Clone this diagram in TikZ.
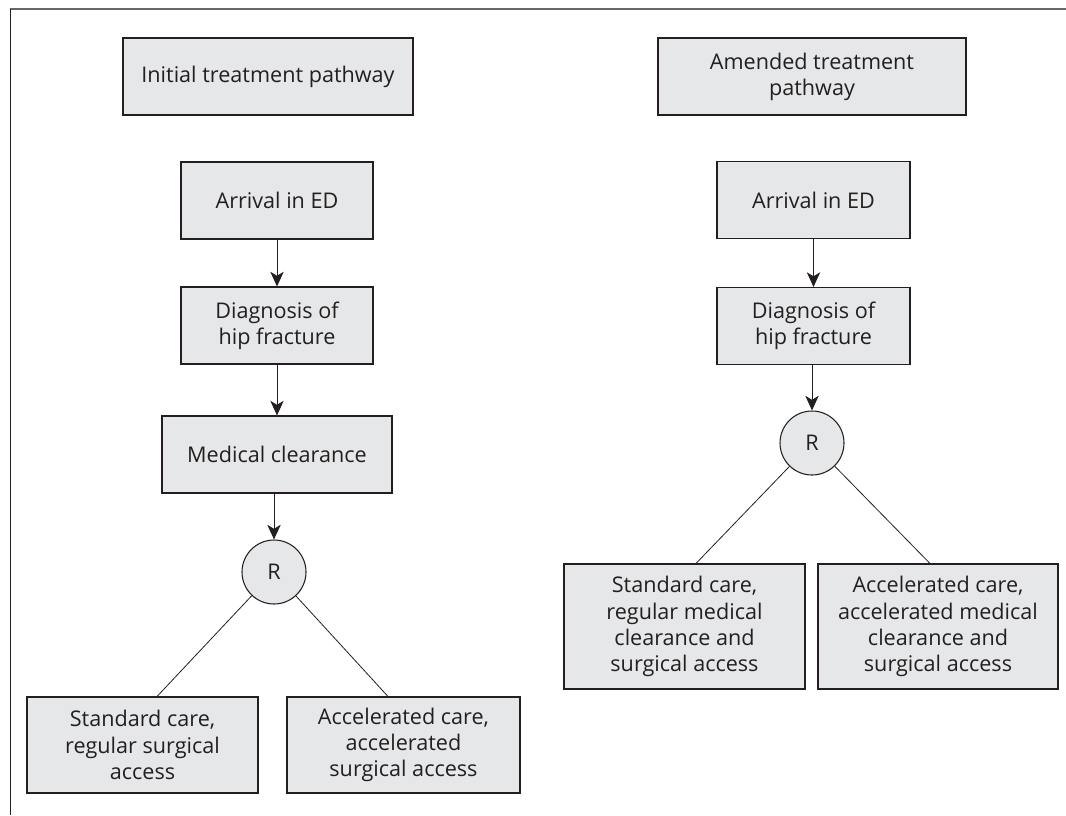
\documentclass[tikz,border=0pt]{standalone}
\usepackage{fontspec}
\setmainfont{Open Sans}
\usetikzlibrary{arrows.meta,calc}
\definecolor{boxfill}{HTML}{E6E7E8}
\definecolor{ink}{HTML}{231F20}
\begin{document}
\begin{tikzpicture}[x=0.75pt,y=-0.75pt,
  box/.style={draw=ink,line width=0.8pt,fill=boxfill,text=ink,align=center,
    inner sep=0pt,font=\fontsize{16.2}{19.6}\selectfont},
  rnode/.style={draw=ink,line width=0.8pt,fill=boxfill,text=ink,circle,
    minimum size=48pt,inner sep=0pt,font=\fontsize{16.2}{19.6}\selectfont},
  flow/.style={draw=ink,line width=0.75pt,-{Stealth[length=11pt,width=10pt,inset=3pt]}},
  branch/.style={draw=ink,line width=0.6pt}]
\useasboundingbox (0,0) rectangle (1066,815);
% frame
\draw[draw=black!60,line width=1.5pt] (10,9) -- (1066,9);
\draw[draw=ink,line width=0.7pt] (10,9) -- (10,815);
% left pathway
\node[box,minimum width=217.5pt,minimum height=57.75pt] (t1) at (268,76.5) {Initial treatment pathway};
\node[box,minimum width=144pt,minimum height=57.75pt] (a1) at (277,200.5) {Arrival in ED};
\node[box,minimum width=144pt,minimum height=57.75pt] (d1) at (277,325.5) {Diagnosis of\\hip fracture};
\node[box,minimum width=172.5pt,minimum height=57.75pt] (m1) at (277,454.5) {Medical clearance};
\node[rnode] (r1) at (274,572) {R};
\node[box,minimum width=173.25pt,minimum height=72pt] (s1) at (142.5,745) {Standard care,\\regular surgical\\access};
\node[box,minimum width=174.75pt,minimum height=72pt] (c1) at (403.5,745) {Accelerated care,\\accelerated\\surgical access};
\draw[flow] (a1) -- (d1);
\draw[flow] (d1) -- (d1|-m1.north);
\draw[flow] (m1.south-|r1) -- (r1);
\draw[branch] (r1) -- ([xshift=10.9pt]s1.north);
\draw[branch] (r1) -- ([xshift=-11.6pt]c1.north);
% right pathway
\node[box,minimum width=231pt,minimum height=57.75pt] (t2) at (812,76.5) {Amended treatment\\pathway};
\node[box,minimum width=144.75pt,minimum height=57.75pt] (a2) at (813.5,200) {Arrival in ED};
\node[box,minimum width=144.75pt,minimum height=57.75pt] (d2) at (813.5,326) {Diagnosis of\\hip fracture};
\node[rnode] (r2) at (812,443) {R};
\node[box,minimum width=180.75pt,minimum height=93.75pt] (s2) at (684.5,626.5) {Standard care,\\regular medical\\clearance and\\surgical access};
\node[box,minimum width=180pt,minimum height=93.75pt] (c2) at (938,626.5) {Accelerated care,\\accelerated medical\\clearance and\\surgical access};
\draw[flow] (a2) -- (d2);
\draw[flow] (d2.south-|r2) -- (r2);
\draw[branch] (r2) -- ([xshift=8.6pt]s2.north);
\draw[branch] (r2) -- ([xshift=-6pt]c2.north);
\end{tikzpicture}
\end{document}
